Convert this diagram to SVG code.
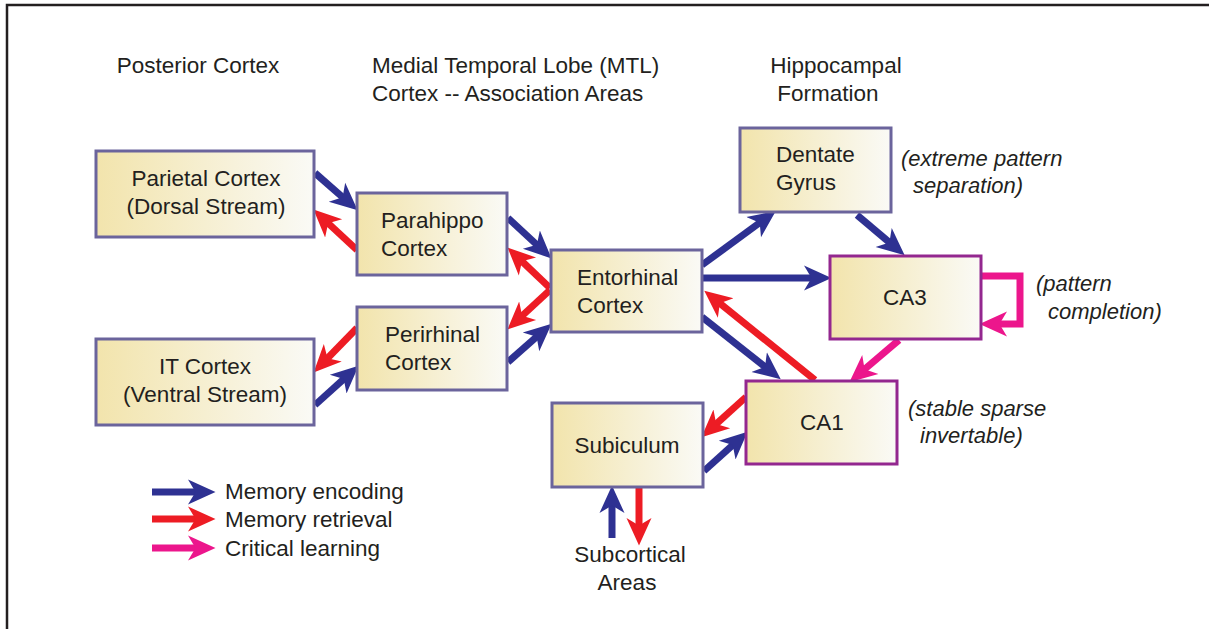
<svg xmlns="http://www.w3.org/2000/svg" width="1209" height="629" viewBox="0 0 1209 629">
<defs>
<linearGradient id="fill" x1="0" y1="0" x2="1" y2="0">
<stop offset="0" stop-color="#f2e4ac"/>
<stop offset="1" stop-color="#fafaf6"/>
</linearGradient>
<marker id="hb" markerUnits="userSpaceOnUse" markerWidth="30" markerHeight="30" viewBox="0 -12 24 24" refX="8" refY="0" orient="auto"><path d="M0,-10 L22,0 L0,10 L6,0 Z" fill="#2e3192"/></marker>
<marker id="hr" markerUnits="userSpaceOnUse" markerWidth="30" markerHeight="30" viewBox="0 -12 24 24" refX="8" refY="0" orient="auto"><path d="M0,-10 L22,0 L0,10 L6,0 Z" fill="#ed1c24"/></marker>
<marker id="hp" markerUnits="userSpaceOnUse" markerWidth="30" markerHeight="30" viewBox="0 -12 24 24" refX="8" refY="0" orient="auto"><path d="M0,-10 L22,0 L0,10 L6,0 Z" fill="#ec168c"/></marker>
</defs>
<style>
text{font-family:"Liberation Sans",Arial,sans-serif;font-size:22.5px;fill:#231f20}
.it{font-style:italic;font-size:22px}
.c{text-anchor:middle}
.box{fill:url(#fill);stroke:#6b649c;stroke-width:3}
.ca{fill:url(#fill);stroke:#93278f;stroke-width:3}
.b{stroke:#2e3192;stroke-width:7;fill:none;marker-end:url(#hb)}
.r{stroke:#ed1c24;stroke-width:7;fill:none;marker-end:url(#hr)}
.p{stroke:#ec168c;stroke-width:7;fill:none;marker-end:url(#hp)}
</style>
<rect width="1209" height="629" fill="#fff"/>
<path d="M7,629 V5 H1209" fill="none" stroke="#231f20" stroke-width="2.5"/>

<g id="headers">
<text x="198" y="73" class="c">Posterior Cortex</text>
<text x="372" y="73">Medial Temporal Lobe (MTL)</text>
<text x="372" y="101">Cortex -- Association Areas</text>
<text x="836" y="73" class="c">Hippocampal</text>
<text x="828" y="101" class="c">Formation</text>
</g>

<g id="connectors">
<line x1="315" y1="173" x2="344.5" y2="198.8" class="b"/>
<line x1="357" y1="250" x2="326.3" y2="221.5" class="r"/>
<line x1="508" y1="218" x2="538.7" y2="246.5" class="b"/>
<line x1="550" y1="288" x2="520.2" y2="259.6" class="r"/>
<line x1="550" y1="290" x2="520.3" y2="317.5" class="r"/>
<line x1="508" y1="362" x2="538.5" y2="335.2" class="b"/>
<line x1="357" y1="328" x2="325.8" y2="360" class="r"/>
<line x1="315" y1="405" x2="345.6" y2="377.4" class="b"/>
<line x1="702" y1="265" x2="761.7" y2="221.3" class="b"/>
<line x1="857" y1="215" x2="891.3" y2="244" class="b"/>
<line x1="703" y1="278" x2="814" y2="278" class="b"/>
<line x1="815" y1="380" x2="717.9" y2="301.8" class="r"/>
<line x1="702" y1="317" x2="767" y2="368.3" class="b"/>
<line x1="899" y1="340" x2="862.7" y2="370.9" class="p"/>
<path d="M981,276 H1020 V324 H997" class="p"/>
<line x1="746" y1="397" x2="714.4" y2="425.6" class="r"/>
<line x1="704" y1="471" x2="734.6" y2="443.4" class="b"/>
<line x1="612" y1="538" x2="612" y2="503" class="b"/>
<line x1="639" y1="488" x2="639" y2="528" class="r"/>
</g>

<g id="parietal"><rect x="96" y="151" width="218" height="86" class="box"/>
<text x="206" y="186" class="c">Parietal Cortex</text><text x="206" y="214" class="c">(Dorsal Stream)</text></g>
<g id="it"><rect x="96" y="339" width="218" height="86" class="box"/>
<text x="205" y="374" class="c">IT Cortex</text><text x="205" y="402" class="c">(Ventral Stream)</text></g>
<g id="parahippo"><rect x="357" y="193" width="150" height="82" class="box"/>
<text x="381" y="228">Parahippo</text><text x="381" y="256">Cortex</text></g>
<g id="perirhinal"><rect x="357" y="307" width="150" height="83" class="box"/>
<text x="385" y="342">Perirhinal</text><text x="385" y="370">Cortex</text></g>
<g id="entorhinal"><rect x="551" y="250" width="151" height="82" class="box"/>
<text x="577" y="285">Entorhinal</text><text x="577" y="313">Cortex</text></g>
<g id="dentate"><rect x="740" y="128" width="151" height="84" class="box"/>
<text x="776" y="162">Dentate</text><text x="776" y="190">Gyrus</text></g>
<g id="ca3"><rect x="830" y="256" width="151" height="83" class="ca"/>
<text x="905" y="305" class="c">CA3</text></g>
<g id="ca1"><rect x="746" y="381" width="151" height="83" class="ca"/>
<text x="822" y="430" class="c">CA1</text></g>
<g id="subiculum"><rect x="552" y="403" width="151" height="84" class="box"/>
<text x="627" y="453" class="c">Subiculum</text></g>
<g id="subcortical">
<text x="630" y="562" class="c">Subcortical</text><text x="627" y="590" class="c">Areas</text></g>

<g id="notes">
<text x="901" y="166" class="it">(extreme pattern</text>
<text x="913" y="193" class="it">separation)</text>
<text x="1036" y="291" class="it">(pattern</text>
<text x="1048" y="319" class="it">completion)</text>
<text x="908" y="416" class="it">(stable sparse</text>
<text x="920" y="443" class="it">invertable)</text>
</g>

<g id="legend">
<line x1="152" y1="492" x2="198" y2="492" class="b"/>
<line x1="152" y1="519" x2="198" y2="519" class="r"/>
<line x1="152" y1="548" x2="198" y2="548" class="p"/>
<text x="225" y="499">Memory encoding</text>
<text x="225" y="527">Memory retrieval</text>
<text x="225" y="556">Critical learning</text>
</g>
</svg>
